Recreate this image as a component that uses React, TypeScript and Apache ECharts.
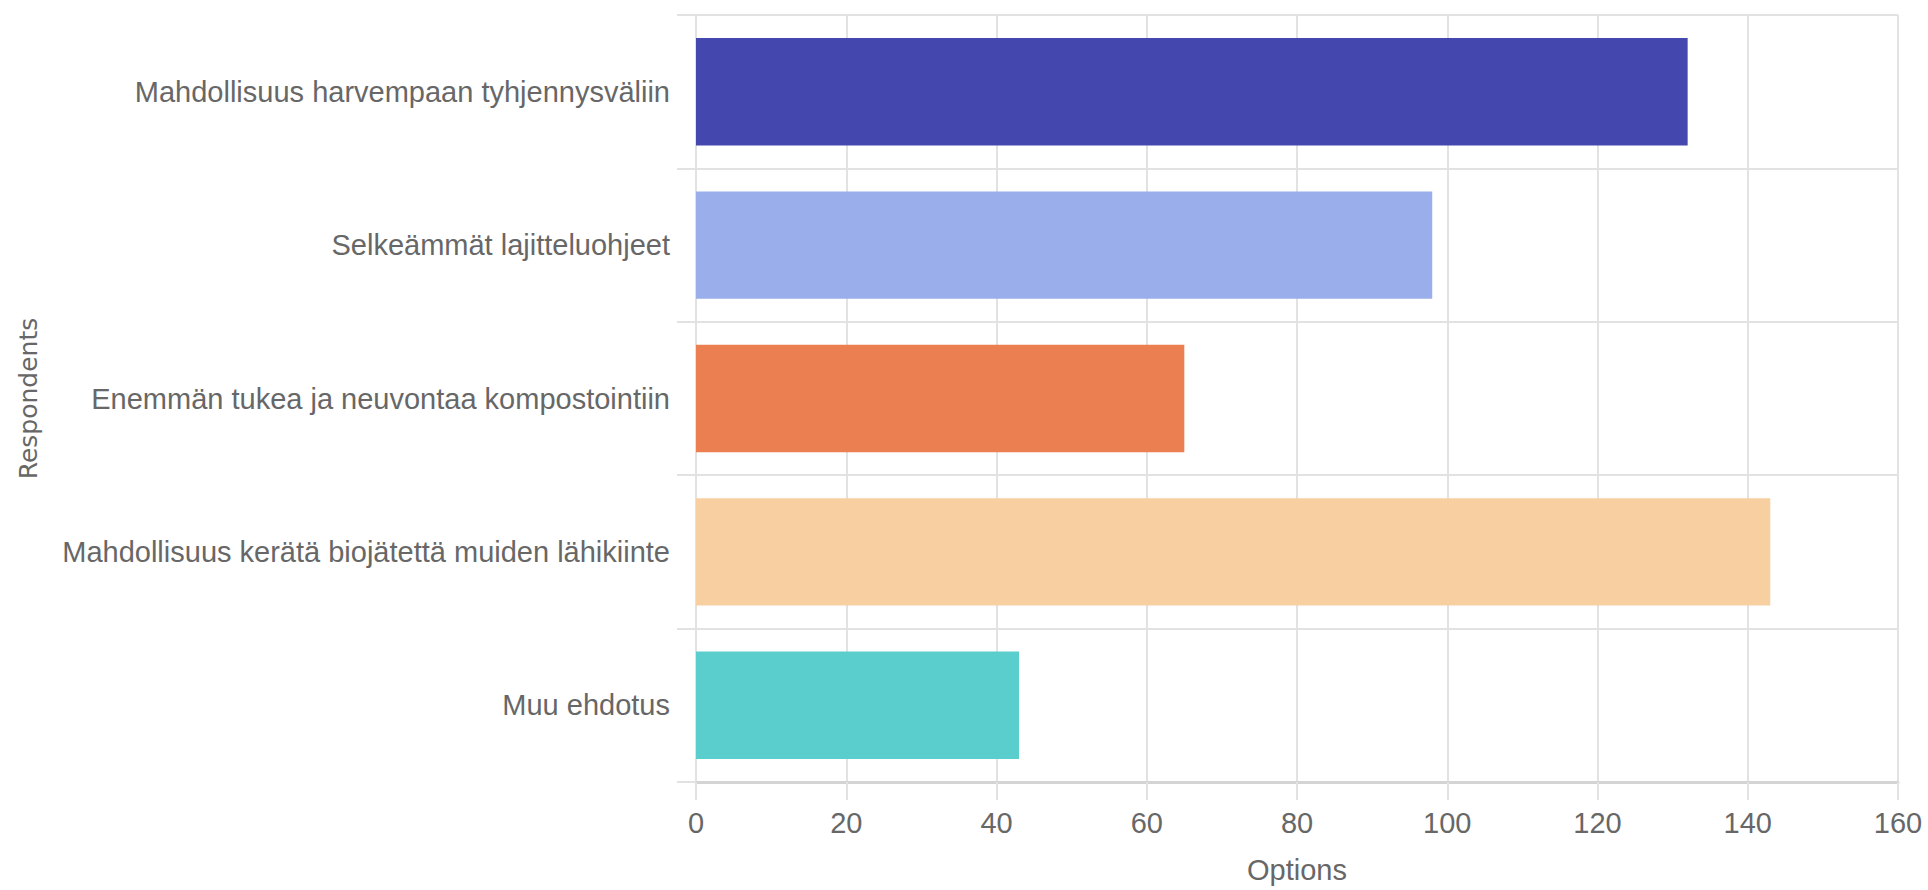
import React, { useEffect, useRef } from "react";
import * as echarts from "echarts";

const categories: string[] = [
  "Mahdollisuus harvempaan tyhjennysväliin",
  "Selkeämmät lajitteluohjeet",
  "Enemmän tukea ja neuvontaa kompostointiin",
  "Mahdollisuus kerätä biojätettä muiden lähikiinte",
  "Muu ehdotus",
];
const values: number[] = [132, 98, 65, 143, 43];
const barColors: string[] = ["#4447AE", "#99AEEB", "#EC7F51", "#F8CFA0", "#5ACDCD"];
const xAxisMin = 0;
const xAxisMax = 160;
const xAxisInterval = 20;
const xAxisTitle = "Options";
const yAxisTitle = "Respondents";

const SANS = "'Liberation Sans', Arial, sans-serif";
const TITLE_FONT = "'DejaVu Sans', sans-serif";
const TEXT = "#676767";
const GRID = "#e2e2e2";

export default function App() {
  const ref = useRef<HTMLDivElement | null>(null);

  useEffect(() => {
    if (!ref.current) return;
    const chart = echarts.init(ref.current, undefined, { renderer: "svg" });
    chart.setOption({
      animation: false,
      backgroundColor: "#ffffff",
      grid: {
        left: 696,
        right: 30,
        top: 15,
        bottom: 108,
        containLabel: false,
        outerBoundsMode: "none",
      },
      xAxis: {
        type: "value",
        min: xAxisMin,
        max: xAxisMax,
        interval: xAxisInterval,
        name: xAxisTitle,
        nameLocation: "middle",
        nameGap: 73,
        nameMoveOverlap: false,
        nameTextStyle: { color: TEXT, fontSize: 29, fontFamily: SANS },
        axisLine: { show: true, lineStyle: { color: "#d4d4d4", width: 3 } },
        axisTick: { show: true, length: 18, lineStyle: { color: GRID, width: 2 } },
        splitLine: { show: true, lineStyle: { color: GRID, width: 2 } },
        axisLabel: { color: TEXT, fontSize: 29, fontFamily: SANS, margin: 26 },
      },
      yAxis: {
        type: "category",
        inverse: true,
        data: categories,
        name: yAxisTitle,
        nameLocation: "middle",
        nameRotate: 90,
        nameGap: 655,
        nameMoveOverlap: false,
        nameTextStyle: { color: TEXT, fontSize: 25, fontFamily: TITLE_FONT },
        axisLine: { show: true, lineStyle: { color: GRID, width: 2 } },
        axisTick: { show: true, length: 19, alignWithLabel: false, lineStyle: { color: GRID, width: 2 } },
        splitLine: { show: true, lineStyle: { color: GRID, width: 2 } },
        axisLabel: { color: TEXT, fontSize: 29, fontFamily: SANS, margin: 26 },
      },
      series: [
        {
          type: "bar",
          barCategoryGap: "30%",
          data: values.map((v, i) => ({ value: v, itemStyle: { color: barColors[i] } })),
        },
      ],
    });
    return () => chart.dispose();
  }, []);

  return (
    <div
      ref={ref}
      style={{ position: "fixed", left: 0, top: 0, width: 1928, height: 890, background: "#fff" }}
    />
  );
}
